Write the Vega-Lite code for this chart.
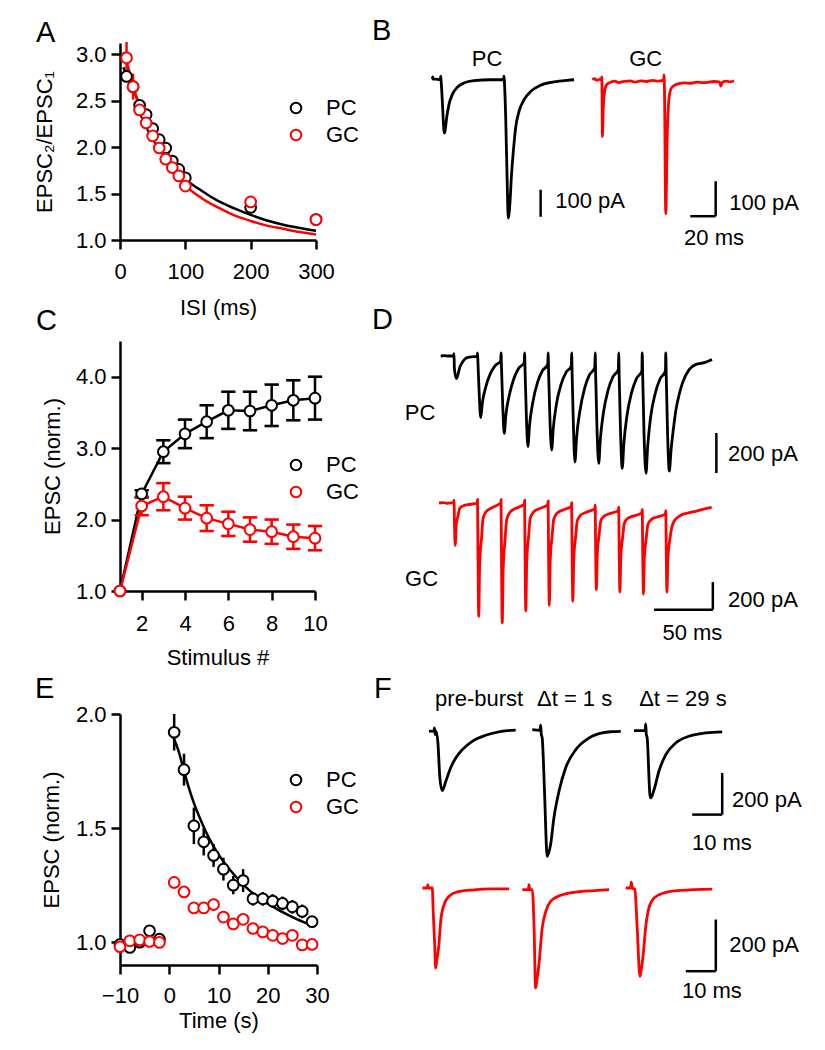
{
"$schema": "https://vega.github.io/schema/vega-lite/v6.json",
"background": "white",
"padding": {"left": 33, "top": 17, "right": 5, "bottom": 5},
"config": {
  "font": "Liberation Sans",
  "view": {"stroke": null},
  "axis": {"domainColor": "black", "domainWidth": 2.5, "tickColor": "black", "tickWidth": 2.5, "tickSize": 9, "labelFontSize": 22, "labelColor": "black", "titleFontSize": 22, "titleColor": "black", "titleFontWeight": "normal", "grid": false, "labelOverlap": false, "labelFlush": false, "labelBound": false},
  "title": {"fontSize": 29, "fontWeight": "normal", "anchor": "start", "frame": "group", "color": "black"},
  "legend": {"title": null, "symbolType": "circle", "symbolSize": 110, "symbolStrokeWidth": 2, "symbolFillColor": "white", "labelFontSize": 22, "labelColor": "black", "labelOffset": 19, "rowPadding": 5, "padding": 0}
},
"datasets": {
  "ppr": [
    {"cell":"PC","isi":10,"r":2.76,"lo":2.71,"hi":2.81},
    {"cell":"PC","isi":20,"r":2.65,"lo":2.61,"hi":2.69},
    {"cell":"PC","isi":30,"r":2.45,"lo":2.42,"hi":2.48},
    {"cell":"PC","isi":40,"r":2.35,"lo":2.32,"hi":2.38},
    {"cell":"PC","isi":50,"r":2.20,"lo":2.17,"hi":2.23},
    {"cell":"PC","isi":60,"r":2.08,"lo":2.05,"hi":2.11},
    {"cell":"PC","isi":70,"r":1.99,"lo":1.96,"hi":2.02},
    {"cell":"PC","isi":80,"r":1.85,"lo":1.82,"hi":1.88},
    {"cell":"PC","isi":90,"r":1.76,"lo":1.73,"hi":1.79},
    {"cell":"PC","isi":100,"r":1.67,"lo":1.64,"hi":1.70},
    {"cell":"PC","isi":200,"r":1.35,"lo":1.31,"hi":1.39},
    {"cell":"PC","isi":300,"r":1.22,"lo":1.19,"hi":1.25},
    {"cell":"GC","isi":10,"r":2.96,"lo":2.79,"hi":3.13},
    {"cell":"GC","isi":20,"r":2.65,"lo":2.51,"hi":2.79},
    {"cell":"GC","isi":30,"r":2.40,"lo":2.35,"hi":2.45},
    {"cell":"GC","isi":40,"r":2.26,"lo":2.22,"hi":2.30},
    {"cell":"GC","isi":50,"r":2.12,"lo":2.08,"hi":2.16},
    {"cell":"GC","isi":60,"r":1.99,"lo":1.95,"hi":2.03},
    {"cell":"GC","isi":70,"r":1.87,"lo":1.84,"hi":1.90},
    {"cell":"GC","isi":80,"r":1.78,"lo":1.75,"hi":1.81},
    {"cell":"GC","isi":90,"r":1.69,"lo":1.66,"hi":1.72},
    {"cell":"GC","isi":100,"r":1.58,"lo":1.54,"hi":1.62},
    {"cell":"GC","isi":200,"r":1.41,"lo":1.36,"hi":1.46},
    {"cell":"GC","isi":300,"r":1.22,"lo":1.18,"hi":1.26}
  ],
  "pprFit": [
    {"cell":"PC","isi":5,"r":2.86},{"cell":"PC","isi":10,"r":2.78},{"cell":"PC","isi":20,"r":2.62},{"cell":"PC","isi":30,"r":2.46},{"cell":"PC","isi":40,"r":2.33},{"cell":"PC","isi":50,"r":2.20},{"cell":"PC","isi":60,"r":2.08},{"cell":"PC","isi":70,"r":1.97},{"cell":"PC","isi":80,"r":1.86},{"cell":"PC","isi":90,"r":1.76},{"cell":"PC","isi":100,"r":1.665},{"cell":"PC","isi":125,"r":1.53},{"cell":"PC","isi":150,"r":1.42},{"cell":"PC","isi":175,"r":1.34},{"cell":"PC","isi":200,"r":1.27},{"cell":"PC","isi":225,"r":1.21},{"cell":"PC","isi":250,"r":1.165},{"cell":"PC","isi":275,"r":1.13},{"cell":"PC","isi":300,"r":1.10},
    {"cell":"GC","isi":5,"r":3.02},{"cell":"GC","isi":10,"r":2.92},{"cell":"GC","isi":20,"r":2.66},{"cell":"GC","isi":30,"r":2.44},{"cell":"GC","isi":40,"r":2.27},{"cell":"GC","isi":50,"r":2.12},{"cell":"GC","isi":60,"r":1.99},{"cell":"GC","isi":70,"r":1.87},{"cell":"GC","isi":80,"r":1.77},{"cell":"GC","isi":90,"r":1.68},{"cell":"GC","isi":100,"r":1.59},{"cell":"GC","isi":125,"r":1.45},{"cell":"GC","isi":150,"r":1.35},{"cell":"GC","isi":175,"r":1.265},{"cell":"GC","isi":200,"r":1.205},{"cell":"GC","isi":225,"r":1.155},{"cell":"GC","isi":250,"r":1.12},{"cell":"GC","isi":275,"r":1.085},{"cell":"GC","isi":300,"r":1.06}
  ],
  "train": [
    {"cell":"PC","stim":1,"v":1.0,"lo":1.0,"hi":1.0},
    {"cell":"PC","stim":2,"v":2.36,"lo":2.31,"hi":2.41},
    {"cell":"PC","stim":3,"v":2.95,"lo":2.79,"hi":3.11},
    {"cell":"PC","stim":4,"v":3.20,"lo":3.00,"hi":3.40},
    {"cell":"PC","stim":5,"v":3.37,"lo":3.14,"hi":3.60},
    {"cell":"PC","stim":6,"v":3.53,"lo":3.27,"hi":3.79},
    {"cell":"PC","stim":7,"v":3.52,"lo":3.25,"hi":3.79},
    {"cell":"PC","stim":8,"v":3.60,"lo":3.31,"hi":3.89},
    {"cell":"PC","stim":9,"v":3.67,"lo":3.39,"hi":3.95},
    {"cell":"PC","stim":10,"v":3.70,"lo":3.40,"hi":4.00},
    {"cell":"GC","stim":1,"v":1.0,"lo":1.0,"hi":1.0},
    {"cell":"GC","stim":2,"v":2.19,"lo":2.06,"hi":2.32},
    {"cell":"GC","stim":3,"v":2.32,"lo":2.13,"hi":2.51},
    {"cell":"GC","stim":4,"v":2.16,"lo":2.00,"hi":2.32},
    {"cell":"GC","stim":5,"v":2.02,"lo":1.84,"hi":2.20},
    {"cell":"GC","stim":6,"v":1.94,"lo":1.77,"hi":2.11},
    {"cell":"GC","stim":7,"v":1.86,"lo":1.69,"hi":2.03},
    {"cell":"GC","stim":8,"v":1.83,"lo":1.66,"hi":2.00},
    {"cell":"GC","stim":9,"v":1.76,"lo":1.59,"hi":1.93},
    {"cell":"GC","stim":10,"v":1.74,"lo":1.57,"hi":1.91}
  ],
  "recov": [
    {"cell":"PC","t":-10,"v":0.99,"lo":0.97,"hi":1.01},
    {"cell":"PC","t":-8,"v":0.977,"lo":0.957,"hi":0.997},
    {"cell":"PC","t":-6,"v":1.0,"lo":0.98,"hi":1.02},
    {"cell":"PC","t":-4,"v":1.05,"lo":1.03,"hi":1.07},
    {"cell":"PC","t":-2,"v":1.013,"lo":0.993,"hi":1.033},
    {"cell":"PC","t":1,"v":1.92,"lo":1.84,"hi":2.0},
    {"cell":"PC","t":3,"v":1.756,"lo":1.686,"hi":1.826},
    {"cell":"PC","t":5,"v":1.51,"lo":1.43,"hi":1.59},
    {"cell":"PC","t":7,"v":1.44,"lo":1.38,"hi":1.50},
    {"cell":"PC","t":9,"v":1.38,"lo":1.33,"hi":1.43},
    {"cell":"PC","t":11,"v":1.32,"lo":1.27,"hi":1.37},
    {"cell":"PC","t":13,"v":1.25,"lo":1.21,"hi":1.29},
    {"cell":"PC","t":15,"v":1.27,"lo":1.22,"hi":1.32},
    {"cell":"PC","t":17,"v":1.19,"lo":1.16,"hi":1.22},
    {"cell":"PC","t":19,"v":1.19,"lo":1.16,"hi":1.22},
    {"cell":"PC","t":21,"v":1.18,"lo":1.15,"hi":1.21},
    {"cell":"PC","t":23,"v":1.17,"lo":1.14,"hi":1.20},
    {"cell":"PC","t":25,"v":1.155,"lo":1.125,"hi":1.185},
    {"cell":"PC","t":27,"v":1.135,"lo":1.105,"hi":1.165},
    {"cell":"PC","t":29,"v":1.09,"lo":1.07,"hi":1.11},
    {"cell":"GC","t":-10,"v":0.98,"lo":0.965,"hi":0.995},
    {"cell":"GC","t":-8,"v":1.006,"lo":0.99,"hi":1.02},
    {"cell":"GC","t":-6,"v":1.01,"lo":0.995,"hi":1.025},
    {"cell":"GC","t":-4,"v":1.003,"lo":0.99,"hi":1.016},
    {"cell":"GC","t":-2,"v":0.999,"lo":0.985,"hi":1.013},
    {"cell":"GC","t":1,"v":1.262,"lo":1.235,"hi":1.289},
    {"cell":"GC","t":3,"v":1.22,"lo":1.195,"hi":1.245},
    {"cell":"GC","t":5,"v":1.15,"lo":1.13,"hi":1.17},
    {"cell":"GC","t":7,"v":1.15,"lo":1.13,"hi":1.17},
    {"cell":"GC","t":9,"v":1.165,"lo":1.14,"hi":1.19},
    {"cell":"GC","t":11,"v":1.11,"lo":1.09,"hi":1.13},
    {"cell":"GC","t":13,"v":1.08,"lo":1.06,"hi":1.10},
    {"cell":"GC","t":15,"v":1.10,"lo":1.08,"hi":1.12},
    {"cell":"GC","t":17,"v":1.06,"lo":1.04,"hi":1.08},
    {"cell":"GC","t":19,"v":1.045,"lo":1.03,"hi":1.06},
    {"cell":"GC","t":21,"v":1.03,"lo":1.015,"hi":1.045},
    {"cell":"GC","t":23,"v":1.016,"lo":1.0,"hi":1.032},
    {"cell":"GC","t":25,"v":1.03,"lo":1.015,"hi":1.045},
    {"cell":"GC","t":27,"v":0.988,"lo":0.975,"hi":1.001},
    {"cell":"GC","t":29,"v":0.99,"lo":0.975,"hi":1.005}
  ],
  "recovFit": [
    {"cell":"PC","t":0.8,"v":1.90},{"cell":"PC","t":2,"v":1.83},{"cell":"PC","t":3,"v":1.75},{"cell":"PC","t":4,"v":1.675},{"cell":"PC","t":5,"v":1.61},{"cell":"PC","t":6,"v":1.555},{"cell":"PC","t":7,"v":1.505},{"cell":"PC","t":8,"v":1.46},{"cell":"PC","t":9,"v":1.42},{"cell":"PC","t":10,"v":1.385},{"cell":"PC","t":11.3,"v":1.345},{"cell":"PC","t":13,"v":1.30},{"cell":"PC","t":15.4,"v":1.245},{"cell":"PC","t":17.5,"v":1.205},{"cell":"PC","t":19.5,"v":1.175},{"cell":"PC","t":21.5,"v":1.15},{"cell":"PC","t":23.6,"v":1.125},{"cell":"PC","t":26,"v":1.10},{"cell":"PC","t":29.4,"v":1.07}
  ],
  "traces": [
    {"key":"B_PC","t":-6.6,"pA":0},{"key":"B_PC","t":-6.3,"pA":8},{"key":"B_PC","t":-6.0,"pA":-1},{"key":"B_PC","t":-4,"pA":-1},{"key":"B_PC","t":-1,"pA":-2},{"key":"B_PC","t":-0.3,"pA":-2},{"key":"B_PC","t":0,"pA":10},{"key":"B_PC","t":0.3,"pA":-5},{"key":"B_PC","t":1.3,"pA":-83},{"key":"B_PC","t":2.6,"pA":-194},{"key":"B_PC","t":3.1,"pA":-200},{"key":"B_PC","t":3.8,"pA":-180},{"key":"B_PC","t":4.7,"pA":-144},{"key":"B_PC","t":6.5,"pA":-95},{"key":"B_PC","t":9.1,"pA":-58},{"key":"B_PC","t":13.1,"pA":-31},{"key":"B_PC","t":18.3,"pA":-15},{"key":"B_PC","t":26.2,"pA":-6},{"key":"B_PC","t":39.4,"pA":-3},{"key":"B_PC","t":49.5,"pA":-3},{"key":"B_PC","t":49.8,"pA":10},{"key":"B_PC","t":50.1,"pA":-5},{"key":"B_PC","t":51.2,"pA":-144},{"key":"B_PC","t":52.4,"pA":-391},{"key":"B_PC","t":53.2,"pA":-515},{"key":"B_PC","t":54.6,"pA":-453},{"key":"B_PC","t":55.6,"pA":-367},{"key":"B_PC","t":57.2,"pA":-268},{"key":"B_PC","t":59,"pA":-181},{"key":"B_PC","t":61.7,"pA":-120},{"key":"B_PC","t":65.6,"pA":-77},{"key":"B_PC","t":70.9,"pA":-46},{"key":"B_PC","t":78.7,"pA":-23},{"key":"B_PC","t":89.2,"pA":-11},{"key":"B_PC","t":99.7,"pA":-5},{"key":"B_PC","t":105,"pA":-3},
    {"key":"B_GC","t":-7.6,"pA":0},{"key":"B_GC","t":-6,"pA":3},{"key":"B_GC","t":-4,"pA":-2},{"key":"B_GC","t":-2,"pA":1},{"key":"B_GC","t":-0.5,"pA":0},{"key":"B_GC","t":-0.2,"pA":8},{"key":"B_GC","t":0,"pA":-20},{"key":"B_GC","t":0.3,"pA":-162},{"key":"B_GC","t":1,"pA":-81},{"key":"B_GC","t":2.1,"pA":-33},{"key":"B_GC","t":3.7,"pA":-14},{"key":"B_GC","t":6.9,"pA":-7},{"key":"B_GC","t":10,"pA":-4},{"key":"B_GC","t":13,"pA":-8},{"key":"B_GC","t":17.3,"pA":-5},{"key":"B_GC","t":22,"pA":-3},{"key":"B_GC","t":26,"pA":-7},{"key":"B_GC","t":30.5,"pA":-3},{"key":"B_GC","t":35,"pA":-5},{"key":"B_GC","t":40,"pA":-2},{"key":"B_GC","t":44,"pA":-4},{"key":"B_GC","t":48.6,"pA":-1},{"key":"B_GC","t":48.8,"pA":14},{"key":"B_GC","t":49.2,"pA":-30},{"key":"B_GC","t":50.2,"pA":-383},{"key":"B_GC","t":51.4,"pA":-157},{"key":"B_GC","t":52.8,"pA":-52},{"key":"B_GC","t":54.6,"pA":-24},{"key":"B_GC","t":58,"pA":-14},{"key":"B_GC","t":64.6,"pA":-9},{"key":"B_GC","t":70,"pA":-10},{"key":"B_GC","t":75,"pA":-7},{"key":"B_GC","t":80,"pA":-8},{"key":"B_GC","t":88.2,"pA":-5},{"key":"B_GC","t":92.5,"pA":-6},{"key":"B_GC","t":93.5,"pA":-18},{"key":"B_GC","t":94.8,"pA":-7},{"key":"B_GC","t":98,"pA":-4},{"key":"B_GC","t":101,"pA":-6},{"key":"B_GC","t":104,"pA":-3},
    {"key":"D_PC","t":-11.3,"pA":0},{"key":"D_PC","t":-8,"pA":2},{"key":"D_PC","t":-5,"pA":0},{"key":"D_PC","t":-0.3,"pA":0},{"key":"D_PC","t":0,"pA":12},{"key":"D_PC","t":0.3,"pA":-60},{"key":"D_PC","t":2,"pA":-113},{"key":"D_PC","t":3.5,"pA":-90},{"key":"D_PC","t":5,"pA":-55},{"key":"D_PC","t":7,"pA":-33},{"key":"D_PC","t":9,"pA":-17},{"key":"D_PC","t":11.3,"pA":-8},{"key":"D_PC","t":15,"pA":-4},{"key":"D_PC","t":19.7,"pA":-3},
    {"key":"D_PC","t":20,"pA":15},{"key":"D_PC","t":20.4,"pA":-40},{"key":"D_PC","t":21.5,"pA":-200},{"key":"D_PC","t":22.7,"pA":-308},{"key":"D_PC","t":24.1,"pA":-235},{"key":"D_PC","t":27,"pA":-155},{"key":"D_PC","t":31,"pA":-87},{"key":"D_PC","t":35,"pA":-48},{"key":"D_PC","t":39.7,"pA":-25},
    {"key":"D_PC","t":40,"pA":15},{"key":"D_PC","t":40.4,"pA":-60},{"key":"D_PC","t":41.5,"pA":-260},{"key":"D_PC","t":42.7,"pA":-387},{"key":"D_PC","t":44.1,"pA":-295},{"key":"D_PC","t":47,"pA":-196},{"key":"D_PC","t":51,"pA":-111},{"key":"D_PC","t":55,"pA":-61},{"key":"D_PC","t":59.7,"pA":-33},
    {"key":"D_PC","t":60,"pA":15},{"key":"D_PC","t":60.4,"pA":-70},{"key":"D_PC","t":61.5,"pA":-300},{"key":"D_PC","t":62.8,"pA":-453},{"key":"D_PC","t":64.2,"pA":-346},{"key":"D_PC","t":67,"pA":-231},{"key":"D_PC","t":71,"pA":-132},{"key":"D_PC","t":75,"pA":-75},{"key":"D_PC","t":79.7,"pA":-42},
    {"key":"D_PC","t":80,"pA":15},{"key":"D_PC","t":80.4,"pA":-80},{"key":"D_PC","t":81.5,"pA":-310},{"key":"D_PC","t":83,"pA":-470},{"key":"D_PC","t":84.4,"pA":-361},{"key":"D_PC","t":87,"pA":-243},{"key":"D_PC","t":91,"pA":-142},{"key":"D_PC","t":95,"pA":-84},{"key":"D_PC","t":99.7,"pA":-50},
    {"key":"D_PC","t":100,"pA":15},{"key":"D_PC","t":100.4,"pA":-90},{"key":"D_PC","t":101.5,"pA":-350},{"key":"D_PC","t":102.8,"pA":-530},{"key":"D_PC","t":104.2,"pA":-407},{"key":"D_PC","t":107,"pA":-275},{"key":"D_PC","t":111,"pA":-162},{"key":"D_PC","t":115,"pA":-96},{"key":"D_PC","t":119.7,"pA":-58},
    {"key":"D_PC","t":120,"pA":15},{"key":"D_PC","t":120.4,"pA":-95},{"key":"D_PC","t":121.5,"pA":-355},{"key":"D_PC","t":123,"pA":-537},{"key":"D_PC","t":124.4,"pA":-415},{"key":"D_PC","t":127,"pA":-283},{"key":"D_PC","t":131,"pA":-170},{"key":"D_PC","t":135,"pA":-105},{"key":"D_PC","t":139.7,"pA":-67},
    {"key":"D_PC","t":140,"pA":15},{"key":"D_PC","t":140.4,"pA":-100},{"key":"D_PC","t":141.5,"pA":-370},{"key":"D_PC","t":143,"pA":-562},{"key":"D_PC","t":144.4,"pA":-435},{"key":"D_PC","t":147,"pA":-299},{"key":"D_PC","t":151,"pA":-182},{"key":"D_PC","t":155,"pA":-114},{"key":"D_PC","t":159.7,"pA":-75},
    {"key":"D_PC","t":160,"pA":15},{"key":"D_PC","t":160.4,"pA":-105},{"key":"D_PC","t":161.5,"pA":-385},{"key":"D_PC","t":163.2,"pA":-587},{"key":"D_PC","t":164.6,"pA":-454},{"key":"D_PC","t":167,"pA":-311},{"key":"D_PC","t":171,"pA":-188},{"key":"D_PC","t":175,"pA":-116},{"key":"D_PC","t":179.7,"pA":-75},
    {"key":"D_PC","t":180,"pA":15},{"key":"D_PC","t":180.4,"pA":-100},{"key":"D_PC","t":181.5,"pA":-380},{"key":"D_PC","t":183,"pA":-575},{"key":"D_PC","t":184.5,"pA":-470},{"key":"D_PC","t":187,"pA":-340},{"key":"D_PC","t":188.7,"pA":-267},{"key":"D_PC","t":191.5,"pA":-190},{"key":"D_PC","t":194.3,"pA":-133},{"key":"D_PC","t":200,"pA":-67},{"key":"D_PC","t":205.7,"pA":-42},{"key":"D_PC","t":212.8,"pA":-33},{"key":"D_PC","t":219.3,"pA":-17},
    {"key":"D_GC","t":-12.7,"pA":0},{"key":"D_GC","t":-9,"pA":2},{"key":"D_GC","t":-6,"pA":-2},{"key":"D_GC","t":-3,"pA":1},{"key":"D_GC","t":-0.3,"pA":0},{"key":"D_GC","t":0,"pA":20},{"key":"D_GC","t":0.4,"pA":-150},{"key":"D_GC","t":1,"pA":-306},{"key":"D_GC","t":1.8,"pA":-168},{"key":"D_GC","t":3.4,"pA":-92},{"key":"D_GC","t":4.8,"pA":-40},{"key":"D_GC","t":7.6,"pA":-21},{"key":"D_GC","t":12,"pA":-12},{"key":"D_GC","t":17.6,"pA":-5},{"key":"D_GC","t":19.7,"pA":0},
    {"key":"D_GC","t":20,"pA":25},{"key":"D_GC","t":20.4,"pA":-400},{"key":"D_GC","t":21,"pA":-819},{"key":"D_GC","t":21.8,"pA":-450},{"key":"D_GC","t":23.4,"pA":-253},{"key":"D_GC","t":24.8,"pA":-108},{"key":"D_GC","t":27.6,"pA":-60},{"key":"D_GC","t":32,"pA":-36},{"key":"D_GC","t":37.6,"pA":-12},{"key":"D_GC","t":39.7,"pA":0},
    {"key":"D_GC","t":40,"pA":25},{"key":"D_GC","t":40.4,"pA":-430},{"key":"D_GC","t":41,"pA":-868},{"key":"D_GC","t":41.8,"pA":-481},{"key":"D_GC","t":43.4,"pA":-265},{"key":"D_GC","t":44.8,"pA":-119},{"key":"D_GC","t":47.6,"pA":-67},{"key":"D_GC","t":52,"pA":-41},{"key":"D_GC","t":57.6,"pA":-20},{"key":"D_GC","t":59.7,"pA":-7},
    {"key":"D_GC","t":60,"pA":18},{"key":"D_GC","t":60.4,"pA":-390},{"key":"D_GC","t":61,"pA":-779},{"key":"D_GC","t":61.8,"pA":-434},{"key":"D_GC","t":63.4,"pA":-242},{"key":"D_GC","t":64.8,"pA":-112},{"key":"D_GC","t":67.6,"pA":-66},{"key":"D_GC","t":72,"pA":-43},{"key":"D_GC","t":77.6,"pA":-24},{"key":"D_GC","t":79.7,"pA":-12},
    {"key":"D_GC","t":80,"pA":13},{"key":"D_GC","t":80.4,"pA":-380},{"key":"D_GC","t":81,"pA":-740},{"key":"D_GC","t":81.8,"pA":-418},{"key":"D_GC","t":83.4,"pA":-239},{"key":"D_GC","t":84.8,"pA":-117},{"key":"D_GC","t":87.6,"pA":-74},{"key":"D_GC","t":92,"pA":-53},{"key":"D_GC","t":97.6,"pA":-35},{"key":"D_GC","t":99.7,"pA":-24},
    {"key":"D_GC","t":100,"pA":0},{"key":"D_GC","t":100.4,"pA":-370},{"key":"D_GC","t":101,"pA":-711},{"key":"D_GC","t":101.8,"pA":-410},{"key":"D_GC","t":103.4,"pA":-242},{"key":"D_GC","t":104.8,"pA":-128},{"key":"D_GC","t":107.6,"pA":-88},{"key":"D_GC","t":112,"pA":-68},{"key":"D_GC","t":117.6,"pA":-51},{"key":"D_GC","t":119.7,"pA":-41},
    {"key":"D_GC","t":120,"pA":-16},{"key":"D_GC","t":120.4,"pA":-340},{"key":"D_GC","t":121,"pA":-627},{"key":"D_GC","t":121.8,"pA":-370},{"key":"D_GC","t":123.4,"pA":-227},{"key":"D_GC","t":124.8,"pA":-129},{"key":"D_GC","t":127.6,"pA":-95},{"key":"D_GC","t":132,"pA":-78},{"key":"D_GC","t":137.6,"pA":-64},{"key":"D_GC","t":139.7,"pA":-55},
    {"key":"D_GC","t":140,"pA":-30},{"key":"D_GC","t":140.4,"pA":-350},{"key":"D_GC","t":141,"pA":-644},{"key":"D_GC","t":141.8,"pA":-387},{"key":"D_GC","t":143.4,"pA":-244},{"key":"D_GC","t":144.8,"pA":-146},{"key":"D_GC","t":147.6,"pA":-112},{"key":"D_GC","t":152,"pA":-95},{"key":"D_GC","t":157.6,"pA":-81},{"key":"D_GC","t":159.7,"pA":-72},
    {"key":"D_GC","t":160,"pA":-47},{"key":"D_GC","t":160.4,"pA":-360},{"key":"D_GC","t":161,"pA":-658},{"key":"D_GC","t":161.8,"pA":-398},{"key":"D_GC","t":163.4,"pA":-253},{"key":"D_GC","t":164.8,"pA":-155},{"key":"D_GC","t":167.6,"pA":-120},{"key":"D_GC","t":172,"pA":-103},{"key":"D_GC","t":177.6,"pA":-89},{"key":"D_GC","t":179.7,"pA":-80},
    {"key":"D_GC","t":180,"pA":-55},{"key":"D_GC","t":180.4,"pA":-350},{"key":"D_GC","t":181,"pA":-644},{"key":"D_GC","t":181.8,"pA":-400},{"key":"D_GC","t":183.4,"pA":-270},{"key":"D_GC","t":185,"pA":-180},{"key":"D_GC","t":187,"pA":-133},{"key":"D_GC","t":190,"pA":-105},{"key":"D_GC","t":194,"pA":-84},{"key":"D_GC","t":200,"pA":-70},{"key":"D_GC","t":205.4,"pA":-60},{"key":"D_GC","t":212,"pA":-45},{"key":"D_GC","t":219,"pA":-31},
    {"key":"F_pre_K","t":-2,"pA":0},{"key":"F_pre_K","t":-1.2,"pA":1},{"key":"F_pre_K","t":-0.4,"pA":0},{"key":"F_pre_K","t":-0.2,"pA":16},{"key":"F_pre_K","t":0.1,"pA":-16},{"key":"F_pre_K","t":0.4,"pA":0},{"key":"F_pre_K","t":1.0,"pA":-60},{"key":"F_pre_K","t":1.6,"pA":-220},{"key":"F_pre_K","t":2.4,"pA":-285},{"key":"F_pre_K","t":3.6,"pA":-240},{"key":"F_pre_K","t":5.2,"pA":-176},{"key":"F_pre_K","t":6.9,"pA":-128},{"key":"F_pre_K","t":9.1,"pA":-88},{"key":"F_pre_K","t":12.4,"pA":-48},{"key":"F_pre_K","t":16.9,"pA":-19},{"key":"F_pre_K","t":21.3,"pA":-3},{"key":"F_pre_K","t":24,"pA":3},{"key":"F_pre_K","t":26.9,"pA":6},
    {"key":"F_1s_K","t":-2.9,"pA":8},{"key":"F_1s_K","t":-1.5,"pA":6},{"key":"F_1s_K","t":-0.3,"pA":5},{"key":"F_1s_K","t":-0.1,"pA":30},{"key":"F_1s_K","t":0.1,"pA":-15},{"key":"F_1s_K","t":0.4,"pA":-32},{"key":"F_1s_K","t":1.2,"pA":-300},{"key":"F_1s_K","t":1.9,"pA":-576},{"key":"F_1s_K","t":2.1,"pA":-600},{"key":"F_1s_K","t":3.2,"pA":-544},{"key":"F_1s_K","t":4.3,"pA":-416},{"key":"F_1s_K","t":6,"pA":-288},{"key":"F_1s_K","t":8.2,"pA":-176},{"key":"F_1s_K","t":11.6,"pA":-88},{"key":"F_1s_K","t":16,"pA":-32},{"key":"F_1s_K","t":20.4,"pA":-8},{"key":"F_1s_K","t":23.5,"pA":-2},{"key":"F_1s_K","t":26.6,"pA":0},
    {"key":"F_29_K","t":-4,"pA":3},{"key":"F_29_K","t":-2,"pA":3},{"key":"F_29_K","t":-0.3,"pA":3},{"key":"F_29_K","t":-0.1,"pA":35},{"key":"F_29_K","t":0.1,"pA":-15},{"key":"F_29_K","t":0.4,"pA":-32},{"key":"F_29_K","t":1.3,"pA":-304},{"key":"F_29_K","t":1.6,"pA":-320},{"key":"F_29_K","t":2.7,"pA":-280},{"key":"F_29_K","t":4.3,"pA":-192},{"key":"F_29_K","t":6.6,"pA":-112},{"key":"F_29_K","t":9.9,"pA":-56},{"key":"F_29_K","t":14.3,"pA":-24},{"key":"F_29_K","t":19.9,"pA":-8},{"key":"F_29_K","t":25.4,"pA":-3},
    {"key":"F_pre_R","t":-3.2,"pA":0},{"key":"F_pre_R","t":-1.6,"pA":0},{"key":"F_pre_R","t":-1.4,"pA":13},{"key":"F_pre_R","t":-1.2,"pA":0},{"key":"F_pre_R","t":0.1,"pA":0},{"key":"F_pre_R","t":0.4,"pA":-90},{"key":"F_pre_R","t":0.9,"pA":-219},{"key":"F_pre_R","t":1.2,"pA":-310},{"key":"F_pre_R","t":1.6,"pA":-280},{"key":"F_pre_R","t":2.3,"pA":-219},{"key":"F_pre_R","t":2.9,"pA":-129},{"key":"F_pre_R","t":4,"pA":-65},{"key":"F_pre_R","t":5.7,"pA":-32},{"key":"F_pre_R","t":8.4,"pA":-15},{"key":"F_pre_R","t":14,"pA":-7},{"key":"F_pre_R","t":19.6,"pA":-3},{"key":"F_pre_R","t":25.7,"pA":-3},
    {"key":"F_1s_R","t":-3.2,"pA":-6},{"key":"F_1s_R","t":-1.2,"pA":-6},{"key":"F_1s_R","t":-1,"pA":13},{"key":"F_1s_R","t":-0.8,"pA":-6},{"key":"F_1s_R","t":0.1,"pA":-6},{"key":"F_1s_R","t":0.7,"pA":-155},{"key":"F_1s_R","t":1.2,"pA":-387},{"key":"F_1s_R","t":1.6,"pA":-360},{"key":"F_1s_R","t":2.3,"pA":-297},{"key":"F_1s_R","t":3.4,"pA":-155},{"key":"F_1s_R","t":4.6,"pA":-90},{"key":"F_1s_R","t":6.2,"pA":-52},{"key":"F_1s_R","t":9.6,"pA":-28},{"key":"F_1s_R","t":15.1,"pA":-15},{"key":"F_1s_R","t":20.7,"pA":-10},{"key":"F_1s_R","t":25.7,"pA":-6},
    {"key":"F_29_R","t":-3.4,"pA":0},{"key":"F_29_R","t":-1.8,"pA":0},{"key":"F_29_R","t":-1.6,"pA":23},{"key":"F_29_R","t":-1.2,"pA":0},{"key":"F_29_R","t":-0.4,"pA":-5},{"key":"F_29_R","t":0.4,"pA":-155},{"key":"F_29_R","t":1.3,"pA":-342},{"key":"F_29_R","t":1.7,"pA":-320},{"key":"F_29_R","t":2.4,"pA":-258},{"key":"F_29_R","t":3.2,"pA":-155},{"key":"F_29_R","t":4.3,"pA":-77},{"key":"F_29_R","t":6,"pA":-39},{"key":"F_29_R","t":9.3,"pA":-19},{"key":"F_29_R","t":14.9,"pA":-9},{"key":"F_29_R","t":25.4,"pA":-4}
  ],
  "bars": [
    {"key":"B_PC","t":78.7,"t2":78.7,"pA":-410,"pA2":-510},
    {"key":"B_GC","t":89.5,"t2":89.5,"pA":-290,"pA2":-390},
    {"key":"B_GC","t":69.5,"t2":89.5,"pA":-390,"pA2":-390},
    {"key":"D_PC","t":223,"t2":223,"pA":-385,"pA2":-585},
    {"key":"D_GC","t":220,"t2":220,"pA":-572,"pA2":-772},
    {"key":"D_GC","t":170,"t2":220,"pA":-772,"pA2":-772},
    {"key":"F_29_K","t":25.4,"t2":25.4,"pA":-200,"pA2":-400},
    {"key":"F_29_K","t":15.4,"t2":25.4,"pA":-400,"pA2":-400},
    {"key":"F_29_R","t":26.6,"t2":26.6,"pA":-122,"pA2":-322},
    {"key":"F_29_R","t":16.6,"t2":26.6,"pA":-322,"pA2":-322}
  ],
  "notes": [
    {"key":"B_PC","t":36.5,"pA":74,"text":"PC"},
    {"key":"B_PC","t":117.6,"pA":-453,"text":"100 pA"},
    {"key":"B_GC","t":34.4,"pA":59,"text":"GC"},
    {"key":"B_GC","t":127.6,"pA":-352,"text":"100 pA"},
    {"key":"B_GC","t":88.2,"pA":-452,"text":"20 ms"},
    {"key":"D_PC","t":-28.9,"pA":-285,"text":"PC"},
    {"key":"D_PC","t":262.6,"pA":-490,"text":"200 pA"},
    {"key":"D_GC","t":-27.6,"pA":-550,"text":"GC"},
    {"key":"D_GC","t":262.6,"pA":-701,"text":"200 pA"},
    {"key":"D_GC","t":202.6,"pA":-943,"text":"50 ms"},
    {"key":"F_pre_K","t":14.7,"pA":155,"text":"pre-burst"},
    {"key":"F_1s_K","t":11.2,"pA":155,"text":"Δt = 1 s"},
    {"key":"F_29_K","t":12.3,"pA":155,"text":"Δt = 29 s"},
    {"key":"F_29_K","t":40.3,"pA":-330,"text":"200 pA"},
    {"key":"F_29_K","t":25.3,"pA":-535,"text":"10 ms"},
    {"key":"F_29_R","t":42.7,"pA":-221,"text":"200 pA"},
    {"key":"F_29_R","t":25.3,"pA":-399,"text":"10 ms"}
  ]
},
"resolve": {"scale": {"stroke": "independent"}, "legend": {"stroke": "independent"}},
"columns": 2,
"spacing": {"row": 101, "column": 82},
"bounds": "flush",
"align": "each",
"concat": [
  {
    "width": 196, "height": 197,
    "title": {"text": "A", "dx": -84, "offset": -7},
    "encoding": {
      "x": {"field": "isi", "type": "quantitative", "scale": {"domain": [0, 300], "nice": false, "zero": false}, "axis": {"values": [0, 100, 200, 300], "title": "ISI (ms)", "labelPadding": 12, "titlePadding": 15}},
      "stroke": {"field": "cell", "type": "nominal", "scale": {"domain": ["PC", "GC"], "range": ["black", "#ff0000"]}, "legend": {"orient": "none", "legendX": 165, "legendY": 54}}
    },
    "layer": [
      {"data": {"name": "pprFit"}, "mark": {"type": "line", "strokeWidth": 2.5, "interpolate": "monotone"},
       "encoding": {"y": {"field": "r", "type": "quantitative", "scale": {"domain": [1, 3.12], "nice": false, "zero": false}, "axis": {"values": [1, 1.5, 2, 2.5, 3], "format": ".1f", "title": "EPSC₂/EPSC₁", "labelPadding": 5, "titlePadding": 19}}}},
      {"data": {"name": "ppr"}, "mark": {"type": "rule", "strokeWidth": 2.5},
       "encoding": {"y": {"field": "lo", "type": "quantitative", "scale": {"domain": [1, 3.12], "nice": false, "zero": false}, "axis": {"values": [1, 1.5, 2, 2.5, 3], "format": ".1f", "title": "EPSC₂/EPSC₁", "labelPadding": 5, "titlePadding": 19}}, "y2": {"field": "hi"}}},
      {"data": {"name": "ppr"}, "mark": {"type": "point", "shape": "circle", "filled": false, "fill": "white", "fillOpacity": 1, "opacity": 1, "strokeWidth": 2, "size": 115},
       "encoding": {"y": {"field": "r", "type": "quantitative", "scale": {"domain": [1, 3.12], "nice": false, "zero": false}, "axis": {"values": [1, 1.5, 2, 2.5, 3], "format": ".1f", "title": "EPSC₂/EPSC₁", "labelPadding": 5, "titlePadding": 19}}}}
    ]
  },
  {
    "width": 400, "height": 197,
    "title": {"text": "B", "dx": -27, "offset": -3},
    "resolve": {"scale": {"x": "independent", "y": "independent"}},
    "layer": [
      {
        "encoding": {
          "x": {"field": "t", "type": "quantitative", "scale": {"domain": [-32.83, 282.13], "nice": false, "zero": false}, "axis": null},
          "y": {"field": "pA", "type": "quantitative", "scale": {"domain": [-596, 133], "nice": false, "zero": false}, "axis": null}
        },
        "layer": [
          {"data": {"name": "traces"}, "transform": [{"filter": "datum.key === 'B_PC'"}], "mark": {"type": "line", "color": "black", "strokeWidth": 2.8, "interpolate": "monotone"}},
          {"data": {"name": "bars"}, "transform": [{"filter": "datum.key === 'B_PC'"}], "mark": {"type": "rule", "color": "black", "strokeWidth": 2.5}, "encoding": {"x2": {"field": "t2"}, "y2": {"field": "pA2"}}},
          {"data": {"name": "notes"}, "transform": [{"filter": "datum.key === 'B_PC'"}], "mark": {"type": "text", "fontSize": 22, "color": "black", "align": "center", "baseline": "middle"}, "encoding": {"text": {"field": "text", "type": "nominal"}}}
        ]
      },
      {
        "encoding": {
          "x": {"field": "t", "type": "quantitative", "scale": {"domain": [-159.84, 155.12], "nice": false, "zero": false}, "axis": null},
          "y": {"field": "pA", "type": "quantitative", "scale": {"domain": [-458, 105], "nice": false, "zero": false}, "axis": null}
        },
        "layer": [
          {"data": {"name": "traces"}, "transform": [{"filter": "datum.key === 'B_GC'"}], "mark": {"type": "line", "color": "#ff0000", "strokeWidth": 2.8, "interpolate": "monotone"}},
          {"data": {"name": "bars"}, "transform": [{"filter": "datum.key === 'B_GC'"}], "mark": {"type": "rule", "color": "black", "strokeWidth": 2.5}, "encoding": {"x2": {"field": "t2"}, "y2": {"field": "pA2"}}},
          {"data": {"name": "notes"}, "transform": [{"filter": "datum.key === 'B_GC'"}], "mark": {"type": "text", "fontSize": 22, "color": "black", "align": "center", "baseline": "middle"}, "encoding": {"text": {"field": "text", "type": "nominal"}}}
        ]
      }
    ]
  },
  {
    "width": 195, "height": 250,
    "title": {"text": "C", "dx": -84, "offset": 5},
    "data": {"name": "train"},
    "encoding": {
      "x": {"field": "stim", "type": "quantitative", "scale": {"domain": [1, 10], "nice": false, "zero": false}, "axis": {"values": [2, 4, 6, 8, 10], "title": "Stimulus #", "labelPadding": 13, "titlePadding": 13}},
      "stroke": {"field": "cell", "type": "nominal", "scale": {"domain": ["PC", "GC"], "range": ["black", "#ff0000"]}, "legend": {"orient": "none", "legendX": 165, "legendY": 113}}
    },
    "layer": [
      {"mark": {"type": "line", "strokeWidth": 2.5},
       "encoding": {"y": {"field": "v", "type": "quantitative", "scale": {"domain": [1, 4.5], "nice": false, "zero": false}, "axis": {"values": [1, 2, 3, 4], "format": ".1f", "title": "EPSC (norm.)", "labelPadding": 5, "titlePadding": 11}}}},
      {"transform": [{"filter": "datum.hi > datum.lo"}], "mark": {"type": "rule", "strokeWidth": 2.5},
       "encoding": {"y": {"field": "lo", "type": "quantitative", "scale": {"domain": [1, 4.5], "nice": false, "zero": false}, "axis": {"values": [1, 2, 3, 4], "format": ".1f", "title": "EPSC (norm.)", "labelPadding": 5, "titlePadding": 11}}, "y2": {"field": "hi"}}},
      {"transform": [{"filter": "datum.hi > datum.lo"}], "mark": {"type": "tick", "orient": "horizontal", "filled": false, "size": 12, "thickness": 0.3, "strokeWidth": 2.3, "opacity": 1},
       "encoding": {"y": {"field": "lo", "type": "quantitative", "scale": {"domain": [1, 4.5], "nice": false, "zero": false}, "axis": {"values": [1, 2, 3, 4], "format": ".1f", "title": "EPSC (norm.)", "labelPadding": 5, "titlePadding": 11}}}},
      {"transform": [{"filter": "datum.hi > datum.lo"}], "mark": {"type": "tick", "orient": "horizontal", "filled": false, "size": 12, "thickness": 0.3, "strokeWidth": 2.3, "opacity": 1},
       "encoding": {"y": {"field": "hi", "type": "quantitative", "scale": {"domain": [1, 4.5], "nice": false, "zero": false}, "axis": {"values": [1, 2, 3, 4], "format": ".1f", "title": "EPSC (norm.)", "labelPadding": 5, "titlePadding": 11}}}},
      {"mark": {"type": "point", "shape": "circle", "filled": false, "fill": "white", "fillOpacity": 1, "opacity": 1, "strokeWidth": 2, "size": 115},
       "encoding": {"y": {"field": "v", "type": "quantitative", "scale": {"domain": [1, 4.5], "nice": false, "zero": false}, "axis": {"values": [1, 2, 3, 4], "format": ".1f", "title": "EPSC (norm.)", "labelPadding": 5, "titlePadding": 11}}}}
    ]
  },
  {
    "width": 400, "height": 272,
    "title": {"text": "D", "dx": -27, "offset": 6.5},
    "resolve": {"scale": {"x": "independent", "y": "independent"}},
    "layer": [
      {
        "encoding": {
          "x": {"field": "t", "type": "quantitative", "scale": {"domain": [-46.75, 293.24], "nice": false, "zero": false}, "axis": null},
          "y": {"field": "pA", "type": "quantitative", "scale": {"domain": [-1285, 75], "nice": false, "zero": false}, "axis": null}
        },
        "layer": [
          {"data": {"name": "traces"}, "transform": [{"filter": "datum.key === 'D_PC'"}], "mark": {"type": "line", "color": "black", "strokeWidth": 2.8, "interpolate": "monotone"}},
          {"data": {"name": "bars"}, "transform": [{"filter": "datum.key === 'D_PC'"}], "mark": {"type": "rule", "color": "black", "strokeWidth": 2.5}, "encoding": {"x2": {"field": "t2"}, "y2": {"field": "pA2"}}},
          {"data": {"name": "notes"}, "transform": [{"filter": "datum.key === 'D_PC'"}], "mark": {"type": "text", "fontSize": 22, "color": "black", "align": "center", "baseline": "middle"}, "encoding": {"text": {"field": "text", "type": "nominal"}}}
        ]
      },
      {
        "encoding": {
          "x": {"field": "t", "type": "quantitative", "scale": {"domain": [-46.75, 293.24], "nice": false, "zero": false}, "axis": null},
          "y": {"field": "pA", "type": "quantitative", "scale": {"domain": [-795.4, 1171.3], "nice": false, "zero": false}, "axis": null}
        },
        "layer": [
          {"data": {"name": "traces"}, "transform": [{"filter": "datum.key === 'D_GC'"}], "mark": {"type": "line", "color": "#ff0000", "strokeWidth": 2.8, "interpolate": "monotone"}},
          {"data": {"name": "bars"}, "transform": [{"filter": "datum.key === 'D_GC'"}], "mark": {"type": "rule", "color": "black", "strokeWidth": 2.5}, "encoding": {"x2": {"field": "t2"}, "y2": {"field": "pA2"}}},
          {"data": {"name": "notes"}, "transform": [{"filter": "datum.key === 'D_GC'"}], "mark": {"type": "text", "fontSize": 22, "color": "black", "align": "center", "baseline": "middle"}, "encoding": {"text": {"field": "text", "type": "nominal"}}}
        ]
      }
    ]
  },
  {
    "width": 197, "height": 251,
    "title": {"text": "E", "dx": -85, "offset": -1},
    "encoding": {
      "x": {"field": "t", "type": "quantitative", "scale": {"domain": [-10, 30], "nice": false, "zero": false}, "axis": {"values": [-10, 0, 10, 20, 30], "title": "Time (s)", "labelPadding": 11, "titlePadding": 4}},
      "stroke": {"field": "cell", "type": "nominal", "scale": {"domain": ["PC", "GC"], "range": ["black", "#ff0000"]}, "legend": {"orient": "none", "legendX": 165, "legendY": 55}}
    },
    "layer": [
      {"data": {"name": "recovFit"}, "mark": {"type": "line", "strokeWidth": 2.5, "interpolate": "monotone"},
       "encoding": {"y": {"field": "v", "type": "quantitative", "scale": {"domain": [0.9, 2.0], "nice": false, "zero": false}, "axis": {"values": [1, 1.5, 2], "format": ".1f", "title": "EPSC (norm.)", "labelPadding": 5, "titlePadding": 12}}}},
      {"data": {"name": "recov"}, "mark": {"type": "rule", "strokeWidth": 2.5},
       "encoding": {"y": {"field": "lo", "type": "quantitative", "scale": {"domain": [0.9, 2.0], "nice": false, "zero": false}, "axis": {"values": [1, 1.5, 2], "format": ".1f", "title": "EPSC (norm.)", "labelPadding": 5, "titlePadding": 12}}, "y2": {"field": "hi"}}},
      {"data": {"name": "recov"}, "mark": {"type": "point", "shape": "circle", "filled": false, "fill": "white", "fillOpacity": 1, "opacity": 1, "strokeWidth": 2, "size": 115},
       "encoding": {"y": {"field": "v", "type": "quantitative", "scale": {"domain": [0.9, 2.0], "nice": false, "zero": false}, "axis": {"values": [1, 1.5, 2], "format": ".1f", "title": "EPSC (norm.)", "labelPadding": 5, "titlePadding": 12}}}}
    ]
  },
  {
    "width": 400, "height": 251,
    "title": {"text": "F", "dx": -25, "offset": -16},
    "resolve": {"scale": {"x": "independent", "y": "independent"}},
    "layer": [
      {
        "encoding": {
          "x": {"field": "t", "type": "quantitative", "scale": {"domain": [-12, 121.33], "nice": false, "zero": false}, "axis": null},
          "y": {"field": "pA", "type": "quantitative", "scale": {"domain": [-1122, 83], "nice": false, "zero": false}, "axis": null}
        },
        "layer": [
          {"data": {"name": "traces"}, "transform": [{"filter": "datum.key === 'F_pre_K'"}], "mark": {"type": "line", "color": "black", "strokeWidth": 2.8, "interpolate": "monotone"}},
          {"data": {"name": "notes"}, "transform": [{"filter": "datum.key === 'F_pre_K'"}], "mark": {"type": "text", "fontSize": 22, "color": "black", "align": "center", "baseline": "middle"}, "encoding": {"text": {"field": "text", "type": "nominal"}}}
        ]
      },
      {
        "encoding": {
          "x": {"field": "t", "type": "quantitative", "scale": {"domain": [-47.33, 86], "nice": false, "zero": false}, "axis": null},
          "y": {"field": "pA", "type": "quantitative", "scale": {"domain": [-1122, 83], "nice": false, "zero": false}, "axis": null}
        },
        "layer": [
          {"data": {"name": "traces"}, "transform": [{"filter": "datum.key === 'F_1s_K'"}], "mark": {"type": "line", "color": "black", "strokeWidth": 2.8, "interpolate": "monotone"}},
          {"data": {"name": "notes"}, "transform": [{"filter": "datum.key === 'F_1s_K'"}], "mark": {"type": "text", "fontSize": 22, "color": "black", "align": "center", "baseline": "middle"}, "encoding": {"text": {"field": "text", "type": "nominal"}}}
        ]
      },
      {
        "encoding": {
          "x": {"field": "t", "type": "quantitative", "scale": {"domain": [-82.33, 51], "nice": false, "zero": false}, "axis": null},
          "y": {"field": "pA", "type": "quantitative", "scale": {"domain": [-1122, 83], "nice": false, "zero": false}, "axis": null}
        },
        "layer": [
          {"data": {"name": "traces"}, "transform": [{"filter": "datum.key === 'F_29_K'"}], "mark": {"type": "line", "color": "black", "strokeWidth": 2.8, "interpolate": "monotone"}},
          {"data": {"name": "bars"}, "transform": [{"filter": "datum.key === 'F_29_K'"}], "mark": {"type": "rule", "color": "black", "strokeWidth": 2.5}, "encoding": {"x2": {"field": "t2"}, "y2": {"field": "pA2"}}},
          {"data": {"name": "notes"}, "transform": [{"filter": "datum.key === 'F_29_K'"}], "mark": {"type": "text", "fontSize": 22, "color": "black", "align": "center", "baseline": "middle"}, "encoding": {"text": {"field": "text", "type": "nominal"}}}
        ]
      },
      {
        "encoding": {
          "x": {"field": "t", "type": "quantitative", "scale": {"domain": [-11, 122.33], "nice": false, "zero": false}, "axis": null},
          "y": {"field": "pA", "type": "quantitative", "scale": {"domain": [-298, 673.6], "nice": false, "zero": false}, "axis": null}
        },
        "layer": [
          {"data": {"name": "traces"}, "transform": [{"filter": "datum.key === 'F_pre_R'"}], "mark": {"type": "line", "color": "#ff0000", "strokeWidth": 2.8, "interpolate": "monotone"}}
        ]
      },
      {
        "encoding": {
          "x": {"field": "t", "type": "quantitative", "scale": {"domain": [-44.33, 89], "nice": false, "zero": false}, "axis": null},
          "y": {"field": "pA", "type": "quantitative", "scale": {"domain": [-298, 673.6], "nice": false, "zero": false}, "axis": null}
        },
        "layer": [
          {"data": {"name": "traces"}, "transform": [{"filter": "datum.key === 'F_1s_R'"}], "mark": {"type": "line", "color": "#ff0000", "strokeWidth": 2.8, "interpolate": "monotone"}}
        ]
      },
      {
        "encoding": {
          "x": {"field": "t", "type": "quantitative", "scale": {"domain": [-79, 54.33], "nice": false, "zero": false}, "axis": null},
          "y": {"field": "pA", "type": "quantitative", "scale": {"domain": [-298, 673.6], "nice": false, "zero": false}, "axis": null}
        },
        "layer": [
          {"data": {"name": "traces"}, "transform": [{"filter": "datum.key === 'F_29_R'"}], "mark": {"type": "line", "color": "#ff0000", "strokeWidth": 2.8, "interpolate": "monotone"}},
          {"data": {"name": "bars"}, "transform": [{"filter": "datum.key === 'F_29_R'"}], "mark": {"type": "rule", "color": "black", "strokeWidth": 2.5}, "encoding": {"x2": {"field": "t2"}, "y2": {"field": "pA2"}}},
          {"data": {"name": "notes"}, "transform": [{"filter": "datum.key === 'F_29_R'"}], "mark": {"type": "text", "fontSize": 22, "color": "black", "align": "center", "baseline": "middle"}, "encoding": {"text": {"field": "text", "type": "nominal"}}}
        ]
      }
    ]
  }
]
}
